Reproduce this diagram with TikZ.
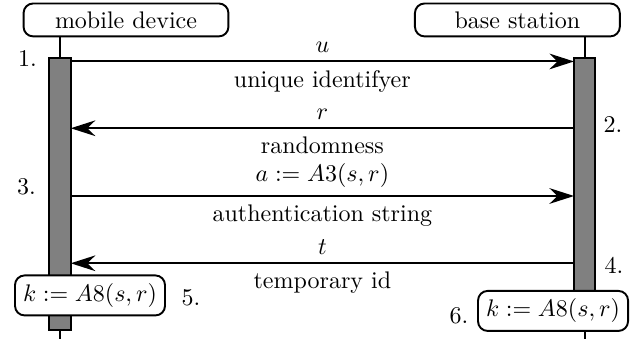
\documentclass[tikz,border=0pt]{standalone}
\usetikzlibrary{arrows.meta}
\begin{document}
\begin{tikzpicture}[
    thick,
    party/.style={draw, rounded corners, fill=white, minimum width=3cm},
    result/.style={draw, rounded corners, fill=white},
    bar/.style={draw, fill=gray},
    msg/.style={-{Stealth[length=3.6mm, width=2.3mm]}}
  ]
  \useasboundingbox (-0.879,0.9) rectangle (8.390,-4.063);

  % parties
  \node[party] (mobile) at (0.966,0.608) {mobile device};
  \node[party] (base) at (6.697,0.608) {base station};
  \coordinate (mend) at (0,-4.07);
  \coordinate (bend) at (7.683,-4.07);
  \draw (mobile.south -| mend) -- (mend);
  \draw (base.south -| bend) -- (bend);

  % activity bars
  \draw[bar] (-0.157,0.05) rectangle (0.157,-3.93);
  \draw[bar] (7.526,0.05) rectangle (7.840,-3.6);

  % message ends
  \coordinate (m1) at (0.157,0);
  \coordinate (b1) at (7.526,0);
  \coordinate (m2) at (0.157,-0.978);
  \coordinate (b2) at (7.526,-0.978);
  \coordinate (m3) at (0.157,-1.97);
  \coordinate (b3) at (7.526,-1.97);
  \coordinate (m4) at (0.157,-2.955);
  \coordinate (b4) at (7.526,-2.955);

  % messages
  \draw[msg] (m1) -- (b1)
    node[midway, above] {$u$}
    node[midway, below] {unique identifyer};
  \draw[msg] (b2) -- (m2)
    node[midway, above] {$r$}
    node[midway, below] {randomness};
  \draw[msg] (m3) -- (b3)
    node[midway, above] {$a := A3(s,r)$}
    node[midway, below] {authentication string};
  \draw[msg] (b4) -- (m4)
    node[midway, above] {$t$}
    node[midway, below] {temporary id};

  % session keys
  \node[result] (mkey) at (0.439,-3.426) {$k := A8(s,r)$};
  \node[result] (bkey) at (7.219,-3.653) {$k := A8(s,r)$};

  % steps
  \node (s1) at (-0.476,0.05) {1.};
  \node (s2) at (8.098,-0.93) {2.};
  \node (s3) at (-0.49,-1.833) {3.};
  \node (s4) at (8.112,-2.98) {4.};
  \node (s5) at (1.918,-3.463) {5.};
  \node (s6) at (5.843,-3.727) {6.};
\end{tikzpicture}
\end{document}
